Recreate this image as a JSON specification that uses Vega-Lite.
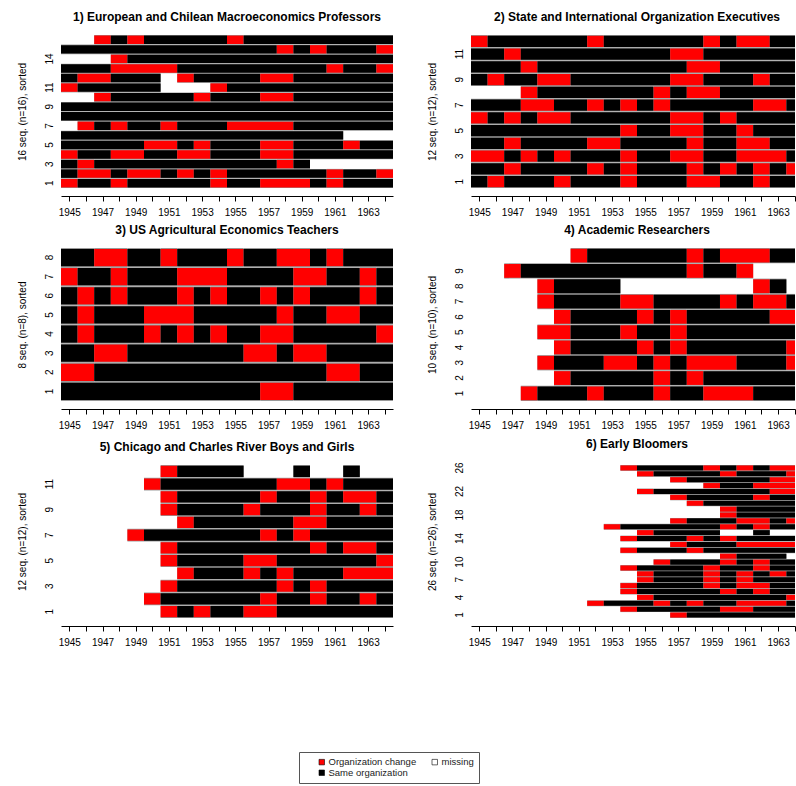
{
"$schema":"https://vega.github.io/schema/vega-lite/v6.json",
"padding":{"left":17,"top":11,"right":0,"bottom":0},
"background":"white",
"config":{
 "font":"Liberation Sans",
 "view":{"stroke":null},
 "title":{"fontSize":12,"fontWeight":"bold","offset":11,"color":"black","frame":"group"},
 "axisX":{"offset":8,"tickSize":5,"labelFontSize":10,"labelPadding":6,"domainColor":"black","tickColor":"black","labelColor":"black","grid":false,"title":null,"labelOverlap":false,"labelFlush":false},
 "axisY":{"domain":false,"ticks":false,"labelAngle":270,"labelAlign":"center","labelBaseline":"bottom","labelPadding":7,"labelFontSize":10,"labelColor":"black","titleFontSize":10,"titleFontWeight":"normal","titleColor":"black","titlePadding":17,"grid":false,"labelOverlap":false},
 "legend":{"orient":"none","legendX":238,"legendY":717,"columns":2,"direction":"horizontal","gridAlign":"all","symbolType":"square","symbolSize":30,"symbolStrokeColor":"black","symbolStrokeWidth":0.6,"symbolOffset":13,"labelFontSize":9.5,"labelColor":"#222","strokeColor":"#555","padding":5,"columnPadding":0,"rowPadding":0,"labelOffset":2}
},
"datasets":{"seq":[
{"p":1,"r":16,"s":1947,"e":1947,"c":"C"},{"p":1,"r":16,"s":1948,"e":1948,"c":"S"},{"p":1,"r":16,"s":1949,"e":1949,"c":"C"},{"p":1,"r":16,"s":1950,"e":1954,"c":"S"},{"p":1,"r":16,"s":1955,"e":1955,"c":"C"},{"p":1,"r":16,"s":1956,"e":1964,"c":"S"},
{"p":1,"r":15,"s":1945,"e":1957,"c":"S"},{"p":1,"r":15,"s":1958,"e":1958,"c":"C"},{"p":1,"r":15,"s":1959,"e":1959,"c":"S"},{"p":1,"r":15,"s":1960,"e":1960,"c":"C"},{"p":1,"r":15,"s":1961,"e":1963,"c":"S"},{"p":1,"r":15,"s":1964,"e":1964,"c":"C"},
{"p":1,"r":14,"s":1948,"e":1948,"c":"C"},{"p":1,"r":14,"s":1949,"e":1964,"c":"S"},
{"p":1,"r":13,"s":1945,"e":1947,"c":"S"},{"p":1,"r":13,"s":1948,"e":1951,"c":"C"},{"p":1,"r":13,"s":1952,"e":1960,"c":"S"},{"p":1,"r":13,"s":1961,"e":1961,"c":"C"},{"p":1,"r":13,"s":1962,"e":1963,"c":"S"},{"p":1,"r":13,"s":1964,"e":1964,"c":"C"},
{"p":1,"r":12,"s":1945,"e":1945,"c":"S"},{"p":1,"r":12,"s":1946,"e":1947,"c":"C"},{"p":1,"r":12,"s":1948,"e":1950,"c":"S"},{"p":1,"r":12,"s":1952,"e":1952,"c":"C"},{"p":1,"r":12,"s":1953,"e":1956,"c":"S"},{"p":1,"r":12,"s":1957,"e":1958,"c":"C"},{"p":1,"r":12,"s":1959,"e":1964,"c":"S"},
{"p":1,"r":11,"s":1945,"e":1945,"c":"C"},{"p":1,"r":11,"s":1946,"e":1950,"c":"S"},{"p":1,"r":11,"s":1954,"e":1954,"c":"C"},{"p":1,"r":11,"s":1955,"e":1964,"c":"S"},
{"p":1,"r":10,"s":1947,"e":1947,"c":"C"},{"p":1,"r":10,"s":1948,"e":1952,"c":"S"},{"p":1,"r":10,"s":1953,"e":1953,"c":"C"},{"p":1,"r":10,"s":1954,"e":1956,"c":"S"},{"p":1,"r":10,"s":1957,"e":1958,"c":"C"},{"p":1,"r":10,"s":1959,"e":1964,"c":"S"},
{"p":1,"r":9,"s":1945,"e":1964,"c":"S"},
{"p":1,"r":8,"s":1945,"e":1964,"c":"S"},
{"p":1,"r":7,"s":1946,"e":1946,"c":"C"},{"p":1,"r":7,"s":1947,"e":1947,"c":"S"},{"p":1,"r":7,"s":1948,"e":1948,"c":"C"},{"p":1,"r":7,"s":1949,"e":1950,"c":"S"},{"p":1,"r":7,"s":1951,"e":1951,"c":"C"},{"p":1,"r":7,"s":1952,"e":1954,"c":"S"},{"p":1,"r":7,"s":1955,"e":1958,"c":"C"},{"p":1,"r":7,"s":1959,"e":1964,"c":"S"},
{"p":1,"r":6,"s":1945,"e":1961,"c":"S"},
{"p":1,"r":5,"s":1945,"e":1949,"c":"S"},{"p":1,"r":5,"s":1950,"e":1951,"c":"C"},{"p":1,"r":5,"s":1952,"e":1952,"c":"S"},{"p":1,"r":5,"s":1953,"e":1953,"c":"C"},{"p":1,"r":5,"s":1954,"e":1956,"c":"S"},{"p":1,"r":5,"s":1957,"e":1958,"c":"C"},{"p":1,"r":5,"s":1959,"e":1961,"c":"S"},{"p":1,"r":5,"s":1962,"e":1962,"c":"C"},{"p":1,"r":5,"s":1963,"e":1964,"c":"S"},
{"p":1,"r":4,"s":1945,"e":1945,"c":"C"},{"p":1,"r":4,"s":1946,"e":1947,"c":"S"},{"p":1,"r":4,"s":1948,"e":1949,"c":"C"},{"p":1,"r":4,"s":1950,"e":1951,"c":"S"},{"p":1,"r":4,"s":1952,"e":1953,"c":"C"},{"p":1,"r":4,"s":1954,"e":1956,"c":"S"},{"p":1,"r":4,"s":1957,"e":1958,"c":"C"},{"p":1,"r":4,"s":1959,"e":1964,"c":"S"},
{"p":1,"r":3,"s":1945,"e":1945,"c":"S"},{"p":1,"r":3,"s":1946,"e":1946,"c":"C"},{"p":1,"r":3,"s":1947,"e":1957,"c":"S"},{"p":1,"r":3,"s":1958,"e":1958,"c":"C"},{"p":1,"r":3,"s":1959,"e":1959,"c":"S"},
{"p":1,"r":2,"s":1945,"e":1945,"c":"S"},{"p":1,"r":2,"s":1946,"e":1947,"c":"C"},{"p":1,"r":2,"s":1948,"e":1948,"c":"S"},{"p":1,"r":2,"s":1949,"e":1950,"c":"C"},{"p":1,"r":2,"s":1951,"e":1951,"c":"S"},{"p":1,"r":2,"s":1952,"e":1952,"c":"C"},{"p":1,"r":2,"s":1953,"e":1953,"c":"S"},{"p":1,"r":2,"s":1954,"e":1954,"c":"C"},{"p":1,"r":2,"s":1955,"e":1960,"c":"S"},{"p":1,"r":2,"s":1961,"e":1961,"c":"C"},{"p":1,"r":2,"s":1962,"e":1963,"c":"S"},{"p":1,"r":2,"s":1964,"e":1964,"c":"C"},
{"p":1,"r":1,"s":1945,"e":1945,"c":"C"},{"p":1,"r":1,"s":1946,"e":1947,"c":"S"},{"p":1,"r":1,"s":1948,"e":1948,"c":"C"},{"p":1,"r":1,"s":1949,"e":1953,"c":"S"},{"p":1,"r":1,"s":1954,"e":1954,"c":"C"},{"p":1,"r":1,"s":1955,"e":1956,"c":"S"},{"p":1,"r":1,"s":1957,"e":1959,"c":"C"},{"p":1,"r":1,"s":1960,"e":1960,"c":"S"},{"p":1,"r":1,"s":1961,"e":1961,"c":"C"},{"p":1,"r":1,"s":1962,"e":1964,"c":"S"},

{"p":2,"r":12,"s":1945,"e":1945,"c":"C"},{"p":2,"r":12,"s":1946,"e":1951,"c":"S"},{"p":2,"r":12,"s":1952,"e":1952,"c":"C"},{"p":2,"r":12,"s":1953,"e":1958,"c":"S"},{"p":2,"r":12,"s":1959,"e":1959,"c":"C"},{"p":2,"r":12,"s":1960,"e":1960,"c":"S"},{"p":2,"r":12,"s":1961,"e":1962,"c":"C"},{"p":2,"r":12,"s":1963,"e":1964,"c":"S"},
{"p":2,"r":11,"s":1945,"e":1946,"c":"S"},{"p":2,"r":11,"s":1947,"e":1947,"c":"C"},{"p":2,"r":11,"s":1948,"e":1956,"c":"S"},{"p":2,"r":11,"s":1957,"e":1958,"c":"C"},{"p":2,"r":11,"s":1959,"e":1964,"c":"S"},
{"p":2,"r":10,"s":1945,"e":1947,"c":"S"},{"p":2,"r":10,"s":1948,"e":1948,"c":"C"},{"p":2,"r":10,"s":1949,"e":1957,"c":"S"},{"p":2,"r":10,"s":1958,"e":1959,"c":"C"},{"p":2,"r":10,"s":1960,"e":1964,"c":"S"},
{"p":2,"r":9,"s":1945,"e":1945,"c":"S"},{"p":2,"r":9,"s":1946,"e":1946,"c":"C"},{"p":2,"r":9,"s":1947,"e":1948,"c":"S"},{"p":2,"r":9,"s":1949,"e":1950,"c":"C"},{"p":2,"r":9,"s":1951,"e":1956,"c":"S"},{"p":2,"r":9,"s":1957,"e":1958,"c":"C"},{"p":2,"r":9,"s":1959,"e":1961,"c":"S"},{"p":2,"r":9,"s":1962,"e":1962,"c":"C"},{"p":2,"r":9,"s":1963,"e":1964,"c":"S"},
{"p":2,"r":8,"s":1948,"e":1948,"c":"C"},{"p":2,"r":8,"s":1949,"e":1955,"c":"S"},{"p":2,"r":8,"s":1956,"e":1956,"c":"C"},{"p":2,"r":8,"s":1957,"e":1957,"c":"S"},{"p":2,"r":8,"s":1958,"e":1959,"c":"C"},{"p":2,"r":8,"s":1960,"e":1964,"c":"S"},
{"p":2,"r":7,"s":1945,"e":1947,"c":"S"},{"p":2,"r":7,"s":1948,"e":1949,"c":"C"},{"p":2,"r":7,"s":1950,"e":1951,"c":"S"},{"p":2,"r":7,"s":1952,"e":1952,"c":"C"},{"p":2,"r":7,"s":1953,"e":1953,"c":"S"},{"p":2,"r":7,"s":1954,"e":1954,"c":"C"},{"p":2,"r":7,"s":1955,"e":1955,"c":"S"},{"p":2,"r":7,"s":1956,"e":1956,"c":"C"},{"p":2,"r":7,"s":1957,"e":1961,"c":"S"},{"p":2,"r":7,"s":1962,"e":1963,"c":"C"},{"p":2,"r":7,"s":1964,"e":1964,"c":"S"},
{"p":2,"r":6,"s":1945,"e":1945,"c":"C"},{"p":2,"r":6,"s":1946,"e":1946,"c":"S"},{"p":2,"r":6,"s":1947,"e":1947,"c":"C"},{"p":2,"r":6,"s":1948,"e":1948,"c":"S"},{"p":2,"r":6,"s":1949,"e":1950,"c":"C"},{"p":2,"r":6,"s":1951,"e":1956,"c":"S"},{"p":2,"r":6,"s":1957,"e":1958,"c":"C"},{"p":2,"r":6,"s":1959,"e":1959,"c":"S"},{"p":2,"r":6,"s":1960,"e":1960,"c":"C"},{"p":2,"r":6,"s":1961,"e":1964,"c":"S"},
{"p":2,"r":5,"s":1945,"e":1953,"c":"S"},{"p":2,"r":5,"s":1954,"e":1954,"c":"C"},{"p":2,"r":5,"s":1955,"e":1956,"c":"S"},{"p":2,"r":5,"s":1957,"e":1958,"c":"C"},{"p":2,"r":5,"s":1959,"e":1960,"c":"S"},{"p":2,"r":5,"s":1961,"e":1961,"c":"C"},{"p":2,"r":5,"s":1962,"e":1964,"c":"S"},
{"p":2,"r":4,"s":1945,"e":1946,"c":"S"},{"p":2,"r":4,"s":1947,"e":1947,"c":"C"},{"p":2,"r":4,"s":1948,"e":1951,"c":"S"},{"p":2,"r":4,"s":1952,"e":1953,"c":"C"},{"p":2,"r":4,"s":1954,"e":1957,"c":"S"},{"p":2,"r":4,"s":1958,"e":1958,"c":"C"},{"p":2,"r":4,"s":1959,"e":1960,"c":"S"},{"p":2,"r":4,"s":1961,"e":1962,"c":"C"},{"p":2,"r":4,"s":1963,"e":1964,"c":"S"},
{"p":2,"r":3,"s":1945,"e":1946,"c":"C"},{"p":2,"r":3,"s":1947,"e":1947,"c":"S"},{"p":2,"r":3,"s":1948,"e":1948,"c":"C"},{"p":2,"r":3,"s":1949,"e":1949,"c":"S"},{"p":2,"r":3,"s":1950,"e":1950,"c":"C"},{"p":2,"r":3,"s":1951,"e":1953,"c":"S"},{"p":2,"r":3,"s":1954,"e":1954,"c":"C"},{"p":2,"r":3,"s":1955,"e":1956,"c":"S"},{"p":2,"r":3,"s":1957,"e":1958,"c":"C"},{"p":2,"r":3,"s":1959,"e":1960,"c":"S"},{"p":2,"r":3,"s":1961,"e":1963,"c":"C"},{"p":2,"r":3,"s":1964,"e":1964,"c":"S"},
{"p":2,"r":2,"s":1945,"e":1946,"c":"S"},{"p":2,"r":2,"s":1947,"e":1947,"c":"C"},{"p":2,"r":2,"s":1948,"e":1951,"c":"S"},{"p":2,"r":2,"s":1952,"e":1952,"c":"C"},{"p":2,"r":2,"s":1953,"e":1953,"c":"S"},{"p":2,"r":2,"s":1954,"e":1954,"c":"C"},{"p":2,"r":2,"s":1955,"e":1957,"c":"S"},{"p":2,"r":2,"s":1958,"e":1958,"c":"C"},{"p":2,"r":2,"s":1959,"e":1959,"c":"S"},{"p":2,"r":2,"s":1960,"e":1960,"c":"C"},{"p":2,"r":2,"s":1961,"e":1961,"c":"S"},{"p":2,"r":2,"s":1962,"e":1962,"c":"C"},{"p":2,"r":2,"s":1963,"e":1963,"c":"S"},{"p":2,"r":2,"s":1964,"e":1964,"c":"C"},
{"p":2,"r":1,"s":1945,"e":1945,"c":"S"},{"p":2,"r":1,"s":1946,"e":1946,"c":"C"},{"p":2,"r":1,"s":1947,"e":1949,"c":"S"},{"p":2,"r":1,"s":1950,"e":1950,"c":"C"},{"p":2,"r":1,"s":1951,"e":1953,"c":"S"},{"p":2,"r":1,"s":1954,"e":1954,"c":"C"},{"p":2,"r":1,"s":1955,"e":1957,"c":"S"},{"p":2,"r":1,"s":1958,"e":1959,"c":"C"},{"p":2,"r":1,"s":1960,"e":1961,"c":"S"},{"p":2,"r":1,"s":1962,"e":1962,"c":"C"},{"p":2,"r":1,"s":1963,"e":1964,"c":"S"},

{"p":3,"r":8,"s":1945,"e":1946,"c":"S"},{"p":3,"r":8,"s":1947,"e":1948,"c":"C"},{"p":3,"r":8,"s":1949,"e":1950,"c":"S"},{"p":3,"r":8,"s":1951,"e":1951,"c":"C"},{"p":3,"r":8,"s":1952,"e":1954,"c":"S"},{"p":3,"r":8,"s":1955,"e":1955,"c":"C"},{"p":3,"r":8,"s":1956,"e":1957,"c":"S"},{"p":3,"r":8,"s":1958,"e":1959,"c":"C"},{"p":3,"r":8,"s":1960,"e":1960,"c":"S"},{"p":3,"r":8,"s":1961,"e":1961,"c":"C"},{"p":3,"r":8,"s":1962,"e":1964,"c":"S"},
{"p":3,"r":7,"s":1945,"e":1945,"c":"C"},{"p":3,"r":7,"s":1946,"e":1947,"c":"S"},{"p":3,"r":7,"s":1948,"e":1948,"c":"C"},{"p":3,"r":7,"s":1949,"e":1951,"c":"S"},{"p":3,"r":7,"s":1952,"e":1954,"c":"C"},{"p":3,"r":7,"s":1955,"e":1958,"c":"S"},{"p":3,"r":7,"s":1959,"e":1960,"c":"C"},{"p":3,"r":7,"s":1961,"e":1962,"c":"S"},{"p":3,"r":7,"s":1963,"e":1963,"c":"C"},{"p":3,"r":7,"s":1964,"e":1964,"c":"S"},
{"p":3,"r":6,"s":1945,"e":1945,"c":"S"},{"p":3,"r":6,"s":1946,"e":1946,"c":"C"},{"p":3,"r":6,"s":1947,"e":1947,"c":"S"},{"p":3,"r":6,"s":1948,"e":1948,"c":"C"},{"p":3,"r":6,"s":1949,"e":1951,"c":"S"},{"p":3,"r":6,"s":1952,"e":1952,"c":"C"},{"p":3,"r":6,"s":1953,"e":1953,"c":"S"},{"p":3,"r":6,"s":1954,"e":1954,"c":"C"},{"p":3,"r":6,"s":1955,"e":1956,"c":"S"},{"p":3,"r":6,"s":1957,"e":1957,"c":"C"},{"p":3,"r":6,"s":1958,"e":1958,"c":"S"},{"p":3,"r":6,"s":1959,"e":1959,"c":"C"},{"p":3,"r":6,"s":1960,"e":1962,"c":"S"},{"p":3,"r":6,"s":1963,"e":1963,"c":"C"},{"p":3,"r":6,"s":1964,"e":1964,"c":"S"},
{"p":3,"r":5,"s":1945,"e":1945,"c":"S"},{"p":3,"r":5,"s":1946,"e":1946,"c":"C"},{"p":3,"r":5,"s":1947,"e":1949,"c":"S"},{"p":3,"r":5,"s":1950,"e":1952,"c":"C"},{"p":3,"r":5,"s":1953,"e":1957,"c":"S"},{"p":3,"r":5,"s":1958,"e":1958,"c":"C"},{"p":3,"r":5,"s":1959,"e":1960,"c":"S"},{"p":3,"r":5,"s":1961,"e":1962,"c":"C"},{"p":3,"r":5,"s":1963,"e":1964,"c":"S"},
{"p":3,"r":4,"s":1945,"e":1945,"c":"S"},{"p":3,"r":4,"s":1946,"e":1946,"c":"C"},{"p":3,"r":4,"s":1947,"e":1949,"c":"S"},{"p":3,"r":4,"s":1950,"e":1950,"c":"C"},{"p":3,"r":4,"s":1951,"e":1951,"c":"S"},{"p":3,"r":4,"s":1952,"e":1952,"c":"C"},{"p":3,"r":4,"s":1953,"e":1953,"c":"S"},{"p":3,"r":4,"s":1954,"e":1954,"c":"C"},{"p":3,"r":4,"s":1955,"e":1956,"c":"S"},{"p":3,"r":4,"s":1957,"e":1958,"c":"C"},{"p":3,"r":4,"s":1959,"e":1963,"c":"S"},{"p":3,"r":4,"s":1964,"e":1964,"c":"C"},
{"p":3,"r":3,"s":1945,"e":1946,"c":"S"},{"p":3,"r":3,"s":1947,"e":1948,"c":"C"},{"p":3,"r":3,"s":1949,"e":1955,"c":"S"},{"p":3,"r":3,"s":1956,"e":1957,"c":"C"},{"p":3,"r":3,"s":1958,"e":1958,"c":"S"},{"p":3,"r":3,"s":1959,"e":1960,"c":"C"},{"p":3,"r":3,"s":1961,"e":1964,"c":"S"},
{"p":3,"r":2,"s":1945,"e":1946,"c":"C"},{"p":3,"r":2,"s":1947,"e":1960,"c":"S"},{"p":3,"r":2,"s":1961,"e":1962,"c":"C"},{"p":3,"r":2,"s":1963,"e":1964,"c":"S"},
{"p":3,"r":1,"s":1945,"e":1956,"c":"S"},{"p":3,"r":1,"s":1957,"e":1958,"c":"C"},{"p":3,"r":1,"s":1959,"e":1964,"c":"S"},

{"p":4,"r":10,"s":1951,"e":1951,"c":"C"},{"p":4,"r":10,"s":1952,"e":1957,"c":"S"},{"p":4,"r":10,"s":1958,"e":1958,"c":"C"},{"p":4,"r":10,"s":1959,"e":1959,"c":"S"},{"p":4,"r":10,"s":1960,"e":1962,"c":"C"},{"p":4,"r":10,"s":1963,"e":1964,"c":"S"},
{"p":4,"r":9,"s":1947,"e":1947,"c":"C"},{"p":4,"r":9,"s":1948,"e":1957,"c":"S"},{"p":4,"r":9,"s":1958,"e":1958,"c":"C"},{"p":4,"r":9,"s":1959,"e":1960,"c":"S"},{"p":4,"r":9,"s":1961,"e":1961,"c":"C"},
{"p":4,"r":8,"s":1949,"e":1949,"c":"C"},{"p":4,"r":8,"s":1950,"e":1953,"c":"S"},{"p":4,"r":8,"s":1962,"e":1962,"c":"C"},{"p":4,"r":8,"s":1963,"e":1963,"c":"S"},
{"p":4,"r":7,"s":1949,"e":1949,"c":"C"},{"p":4,"r":7,"s":1950,"e":1953,"c":"S"},{"p":4,"r":7,"s":1954,"e":1955,"c":"C"},{"p":4,"r":7,"s":1956,"e":1959,"c":"S"},{"p":4,"r":7,"s":1960,"e":1960,"c":"C"},{"p":4,"r":7,"s":1961,"e":1961,"c":"S"},{"p":4,"r":7,"s":1962,"e":1963,"c":"C"},{"p":4,"r":7,"s":1964,"e":1964,"c":"S"},
{"p":4,"r":6,"s":1950,"e":1950,"c":"C"},{"p":4,"r":6,"s":1951,"e":1954,"c":"S"},{"p":4,"r":6,"s":1955,"e":1955,"c":"C"},{"p":4,"r":6,"s":1956,"e":1956,"c":"S"},{"p":4,"r":6,"s":1957,"e":1957,"c":"C"},{"p":4,"r":6,"s":1958,"e":1962,"c":"S"},{"p":4,"r":6,"s":1963,"e":1964,"c":"C"},
{"p":4,"r":5,"s":1949,"e":1950,"c":"C"},{"p":4,"r":5,"s":1951,"e":1953,"c":"S"},{"p":4,"r":5,"s":1954,"e":1954,"c":"C"},{"p":4,"r":5,"s":1955,"e":1956,"c":"S"},{"p":4,"r":5,"s":1957,"e":1957,"c":"C"},{"p":4,"r":5,"s":1958,"e":1964,"c":"S"},
{"p":4,"r":4,"s":1950,"e":1950,"c":"C"},{"p":4,"r":4,"s":1951,"e":1954,"c":"S"},{"p":4,"r":4,"s":1955,"e":1955,"c":"C"},{"p":4,"r":4,"s":1956,"e":1956,"c":"S"},{"p":4,"r":4,"s":1957,"e":1957,"c":"C"},{"p":4,"r":4,"s":1958,"e":1963,"c":"S"},{"p":4,"r":4,"s":1964,"e":1964,"c":"C"},
{"p":4,"r":3,"s":1949,"e":1949,"c":"C"},{"p":4,"r":3,"s":1950,"e":1952,"c":"S"},{"p":4,"r":3,"s":1953,"e":1954,"c":"C"},{"p":4,"r":3,"s":1955,"e":1955,"c":"S"},{"p":4,"r":3,"s":1956,"e":1956,"c":"C"},{"p":4,"r":3,"s":1957,"e":1957,"c":"S"},{"p":4,"r":3,"s":1958,"e":1960,"c":"C"},{"p":4,"r":3,"s":1961,"e":1963,"c":"S"},{"p":4,"r":3,"s":1964,"e":1964,"c":"C"},
{"p":4,"r":2,"s":1950,"e":1950,"c":"C"},{"p":4,"r":2,"s":1951,"e":1955,"c":"S"},{"p":4,"r":2,"s":1956,"e":1956,"c":"C"},{"p":4,"r":2,"s":1957,"e":1957,"c":"S"},{"p":4,"r":2,"s":1958,"e":1958,"c":"C"},{"p":4,"r":2,"s":1959,"e":1964,"c":"S"},
{"p":4,"r":1,"s":1948,"e":1948,"c":"C"},{"p":4,"r":1,"s":1949,"e":1951,"c":"S"},{"p":4,"r":1,"s":1952,"e":1952,"c":"C"},{"p":4,"r":1,"s":1953,"e":1955,"c":"S"},{"p":4,"r":1,"s":1956,"e":1956,"c":"C"},{"p":4,"r":1,"s":1957,"e":1958,"c":"S"},{"p":4,"r":1,"s":1959,"e":1961,"c":"C"},{"p":4,"r":1,"s":1962,"e":1964,"c":"S"},

{"p":5,"r":12,"s":1951,"e":1951,"c":"C"},{"p":5,"r":12,"s":1952,"e":1955,"c":"S"},{"p":5,"r":12,"s":1959,"e":1959,"c":"S"},{"p":5,"r":12,"s":1962,"e":1962,"c":"S"},
{"p":5,"r":11,"s":1950,"e":1950,"c":"C"},{"p":5,"r":11,"s":1951,"e":1957,"c":"S"},{"p":5,"r":11,"s":1958,"e":1959,"c":"C"},{"p":5,"r":11,"s":1960,"e":1960,"c":"S"},{"p":5,"r":11,"s":1961,"e":1961,"c":"C"},{"p":5,"r":11,"s":1962,"e":1964,"c":"S"},
{"p":5,"r":10,"s":1951,"e":1951,"c":"C"},{"p":5,"r":10,"s":1952,"e":1956,"c":"S"},{"p":5,"r":10,"s":1957,"e":1957,"c":"C"},{"p":5,"r":10,"s":1958,"e":1959,"c":"S"},{"p":5,"r":10,"s":1960,"e":1960,"c":"C"},{"p":5,"r":10,"s":1961,"e":1961,"c":"S"},{"p":5,"r":10,"s":1962,"e":1963,"c":"C"},{"p":5,"r":10,"s":1964,"e":1964,"c":"S"},
{"p":5,"r":9,"s":1951,"e":1951,"c":"C"},{"p":5,"r":9,"s":1952,"e":1955,"c":"S"},{"p":5,"r":9,"s":1956,"e":1956,"c":"C"},{"p":5,"r":9,"s":1957,"e":1959,"c":"S"},{"p":5,"r":9,"s":1960,"e":1960,"c":"C"},{"p":5,"r":9,"s":1961,"e":1962,"c":"S"},{"p":5,"r":9,"s":1963,"e":1963,"c":"C"},{"p":5,"r":9,"s":1964,"e":1964,"c":"S"},
{"p":5,"r":8,"s":1952,"e":1952,"c":"C"},{"p":5,"r":8,"s":1953,"e":1958,"c":"S"},{"p":5,"r":8,"s":1959,"e":1960,"c":"C"},{"p":5,"r":8,"s":1961,"e":1964,"c":"S"},
{"p":5,"r":7,"s":1949,"e":1949,"c":"C"},{"p":5,"r":7,"s":1950,"e":1956,"c":"S"},{"p":5,"r":7,"s":1957,"e":1957,"c":"C"},{"p":5,"r":7,"s":1958,"e":1958,"c":"S"},{"p":5,"r":7,"s":1959,"e":1959,"c":"C"},{"p":5,"r":7,"s":1960,"e":1964,"c":"S"},
{"p":5,"r":6,"s":1951,"e":1951,"c":"C"},{"p":5,"r":6,"s":1952,"e":1959,"c":"S"},{"p":5,"r":6,"s":1960,"e":1960,"c":"C"},{"p":5,"r":6,"s":1961,"e":1961,"c":"S"},{"p":5,"r":6,"s":1962,"e":1963,"c":"C"},{"p":5,"r":6,"s":1964,"e":1964,"c":"S"},
{"p":5,"r":5,"s":1951,"e":1951,"c":"C"},{"p":5,"r":5,"s":1952,"e":1955,"c":"S"},{"p":5,"r":5,"s":1956,"e":1957,"c":"C"},{"p":5,"r":5,"s":1958,"e":1963,"c":"S"},{"p":5,"r":5,"s":1964,"e":1964,"c":"C"},
{"p":5,"r":4,"s":1952,"e":1952,"c":"C"},{"p":5,"r":4,"s":1953,"e":1955,"c":"S"},{"p":5,"r":4,"s":1956,"e":1956,"c":"C"},{"p":5,"r":4,"s":1957,"e":1957,"c":"S"},{"p":5,"r":4,"s":1958,"e":1958,"c":"C"},{"p":5,"r":4,"s":1959,"e":1961,"c":"S"},{"p":5,"r":4,"s":1962,"e":1964,"c":"C"},
{"p":5,"r":3,"s":1951,"e":1951,"c":"C"},{"p":5,"r":3,"s":1952,"e":1957,"c":"S"},{"p":5,"r":3,"s":1958,"e":1958,"c":"C"},{"p":5,"r":3,"s":1959,"e":1959,"c":"S"},{"p":5,"r":3,"s":1960,"e":1960,"c":"C"},{"p":5,"r":3,"s":1961,"e":1964,"c":"S"},
{"p":5,"r":2,"s":1950,"e":1950,"c":"C"},{"p":5,"r":2,"s":1951,"e":1956,"c":"S"},{"p":5,"r":2,"s":1957,"e":1957,"c":"C"},{"p":5,"r":2,"s":1958,"e":1959,"c":"S"},{"p":5,"r":2,"s":1960,"e":1960,"c":"C"},{"p":5,"r":2,"s":1961,"e":1962,"c":"S"},{"p":5,"r":2,"s":1963,"e":1963,"c":"C"},{"p":5,"r":2,"s":1964,"e":1964,"c":"S"},
{"p":5,"r":1,"s":1951,"e":1951,"c":"C"},{"p":5,"r":1,"s":1952,"e":1952,"c":"S"},{"p":5,"r":1,"s":1953,"e":1953,"c":"C"},{"p":5,"r":1,"s":1954,"e":1955,"c":"S"},{"p":5,"r":1,"s":1956,"e":1957,"c":"C"},{"p":5,"r":1,"s":1958,"e":1964,"c":"S"},

{"p":6,"r":26,"s":1954,"e":1954,"c":"C"},{"p":6,"r":26,"s":1955,"e":1958,"c":"S"},{"p":6,"r":26,"s":1959,"e":1959,"c":"C"},{"p":6,"r":26,"s":1960,"e":1960,"c":"S"},{"p":6,"r":26,"s":1961,"e":1961,"c":"C"},{"p":6,"r":26,"s":1962,"e":1962,"c":"S"},{"p":6,"r":26,"s":1963,"e":1964,"c":"C"},
{"p":6,"r":25,"s":1955,"e":1955,"c":"C"},{"p":6,"r":25,"s":1956,"e":1959,"c":"S"},{"p":6,"r":25,"s":1960,"e":1960,"c":"C"},{"p":6,"r":25,"s":1961,"e":1963,"c":"S"},{"p":6,"r":25,"s":1964,"e":1964,"c":"C"},
{"p":6,"r":24,"s":1957,"e":1957,"c":"C"},{"p":6,"r":24,"s":1958,"e":1962,"c":"S"},{"p":6,"r":24,"s":1963,"e":1964,"c":"C"},
{"p":6,"r":23,"s":1959,"e":1959,"c":"C"},{"p":6,"r":23,"s":1960,"e":1961,"c":"S"},{"p":6,"r":23,"s":1962,"e":1964,"c":"C"},
{"p":6,"r":22,"s":1955,"e":1955,"c":"C"},{"p":6,"r":22,"s":1956,"e":1962,"c":"S"},{"p":6,"r":22,"s":1963,"e":1964,"c":"C"},
{"p":6,"r":21,"s":1957,"e":1957,"c":"C"},{"p":6,"r":21,"s":1958,"e":1961,"c":"S"},{"p":6,"r":21,"s":1962,"e":1962,"c":"C"},{"p":6,"r":21,"s":1963,"e":1964,"c":"S"},
{"p":6,"r":20,"s":1958,"e":1958,"c":"C"},{"p":6,"r":20,"s":1959,"e":1964,"c":"S"},
{"p":6,"r":19,"s":1960,"e":1960,"c":"C"},{"p":6,"r":19,"s":1961,"e":1964,"c":"S"},
{"p":6,"r":18,"s":1960,"e":1960,"c":"C"},{"p":6,"r":18,"s":1961,"e":1964,"c":"S"},
{"p":6,"r":17,"s":1957,"e":1957,"c":"C"},{"p":6,"r":17,"s":1958,"e":1960,"c":"S"},{"p":6,"r":17,"s":1961,"e":1962,"c":"C"},{"p":6,"r":17,"s":1963,"e":1963,"c":"S"},{"p":6,"r":17,"s":1964,"e":1964,"c":"C"},
{"p":6,"r":16,"s":1953,"e":1953,"c":"C"},{"p":6,"r":16,"s":1954,"e":1959,"c":"S"},{"p":6,"r":16,"s":1960,"e":1960,"c":"C"},{"p":6,"r":16,"s":1961,"e":1961,"c":"S"},{"p":6,"r":16,"s":1962,"e":1962,"c":"C"},{"p":6,"r":16,"s":1963,"e":1964,"c":"S"},
{"p":6,"r":15,"s":1955,"e":1955,"c":"C"},{"p":6,"r":15,"s":1956,"e":1959,"c":"S"},{"p":6,"r":15,"s":1962,"e":1962,"c":"S"},
{"p":6,"r":14,"s":1954,"e":1954,"c":"C"},{"p":6,"r":14,"s":1955,"e":1957,"c":"S"},{"p":6,"r":14,"s":1958,"e":1958,"c":"C"},{"p":6,"r":14,"s":1959,"e":1959,"c":"S"},{"p":6,"r":14,"s":1960,"e":1960,"c":"C"},{"p":6,"r":14,"s":1961,"e":1964,"c":"S"},
{"p":6,"r":13,"s":1957,"e":1957,"c":"C"},{"p":6,"r":13,"s":1958,"e":1960,"c":"S"},{"p":6,"r":13,"s":1961,"e":1964,"c":"C"},
{"p":6,"r":12,"s":1954,"e":1954,"c":"C"},{"p":6,"r":12,"s":1955,"e":1957,"c":"S"},{"p":6,"r":12,"s":1958,"e":1958,"c":"C"},{"p":6,"r":12,"s":1959,"e":1964,"c":"S"},
{"p":6,"r":11,"s":1960,"e":1960,"c":"C"},{"p":6,"r":11,"s":1961,"e":1963,"c":"S"},
{"p":6,"r":10,"s":1956,"e":1956,"c":"C"},{"p":6,"r":10,"s":1957,"e":1959,"c":"S"},{"p":6,"r":10,"s":1960,"e":1960,"c":"C"},{"p":6,"r":10,"s":1961,"e":1961,"c":"S"},{"p":6,"r":10,"s":1962,"e":1962,"c":"C"},{"p":6,"r":10,"s":1963,"e":1964,"c":"S"},
{"p":6,"r":9,"s":1954,"e":1954,"c":"C"},{"p":6,"r":9,"s":1955,"e":1958,"c":"S"},{"p":6,"r":9,"s":1959,"e":1959,"c":"C"},{"p":6,"r":9,"s":1960,"e":1961,"c":"S"},{"p":6,"r":9,"s":1962,"e":1962,"c":"C"},{"p":6,"r":9,"s":1963,"e":1964,"c":"S"},
{"p":6,"r":8,"s":1955,"e":1955,"c":"C"},{"p":6,"r":8,"s":1956,"e":1958,"c":"S"},{"p":6,"r":8,"s":1959,"e":1959,"c":"C"},{"p":6,"r":8,"s":1960,"e":1960,"c":"S"},{"p":6,"r":8,"s":1961,"e":1961,"c":"C"},{"p":6,"r":8,"s":1962,"e":1962,"c":"S"},{"p":6,"r":8,"s":1963,"e":1963,"c":"C"},{"p":6,"r":8,"s":1964,"e":1964,"c":"S"},
{"p":6,"r":7,"s":1955,"e":1955,"c":"C"},{"p":6,"r":7,"s":1956,"e":1958,"c":"S"},{"p":6,"r":7,"s":1959,"e":1959,"c":"C"},{"p":6,"r":7,"s":1960,"e":1960,"c":"S"},{"p":6,"r":7,"s":1961,"e":1961,"c":"C"},{"p":6,"r":7,"s":1962,"e":1964,"c":"S"},
{"p":6,"r":6,"s":1954,"e":1954,"c":"C"},{"p":6,"r":6,"s":1955,"e":1958,"c":"S"},{"p":6,"r":6,"s":1959,"e":1959,"c":"C"},{"p":6,"r":6,"s":1960,"e":1960,"c":"S"},{"p":6,"r":6,"s":1961,"e":1962,"c":"C"},{"p":6,"r":6,"s":1963,"e":1964,"c":"S"},
{"p":6,"r":5,"s":1954,"e":1954,"c":"C"},{"p":6,"r":5,"s":1955,"e":1959,"c":"S"},{"p":6,"r":5,"s":1960,"e":1960,"c":"C"},{"p":6,"r":5,"s":1961,"e":1961,"c":"S"},{"p":6,"r":5,"s":1962,"e":1962,"c":"C"},{"p":6,"r":5,"s":1963,"e":1964,"c":"S"},
{"p":6,"r":4,"s":1955,"e":1955,"c":"C"},{"p":6,"r":4,"s":1956,"e":1963,"c":"S"},{"p":6,"r":4,"s":1964,"e":1964,"c":"C"},
{"p":6,"r":3,"s":1952,"e":1952,"c":"C"},{"p":6,"r":3,"s":1953,"e":1955,"c":"S"},{"p":6,"r":3,"s":1956,"e":1956,"c":"C"},{"p":6,"r":3,"s":1957,"e":1957,"c":"S"},{"p":6,"r":3,"s":1958,"e":1958,"c":"C"},{"p":6,"r":3,"s":1959,"e":1960,"c":"S"},{"p":6,"r":3,"s":1961,"e":1963,"c":"C"},{"p":6,"r":3,"s":1964,"e":1964,"c":"S"},
{"p":6,"r":2,"s":1954,"e":1954,"c":"C"},{"p":6,"r":2,"s":1955,"e":1959,"c":"S"},{"p":6,"r":2,"s":1960,"e":1961,"c":"C"},{"p":6,"r":2,"s":1962,"e":1964,"c":"S"},
{"p":6,"r":1,"s":1957,"e":1957,"c":"C"},{"p":6,"r":1,"s":1958,"e":1964,"c":"S"}
]},
"columns":2,
"spacing":{"row":7,"column":34},
"resolve":{"scale":{"x":"independent","y":"independent"}},
"concat":[
 {"title":{"text":"1) European and Chilean Macroeconomics Professors"},"width":332,"height":153,"data":{"name":"seq"},
  "transform":[{"filter":"datum.p == 1"},{"calculate":"datum.s - 0.5","as":"x0"},{"calculate":"datum.e + 0.5","as":"x1"}],
  "encoding":{"x":{"field":"x0","type":"quantitative","scale":{"domain":[1944.5,1964.5],"nice":false,"zero":false},"axis":{"values":[1945,1946,1947,1948,1949,1950,1951,1952,1953,1954,1955,1956,1957,1958,1959,1960,1961,1962,1963,1964],"format":"d","labelExpr":"datum.value % 2 == 1 ? datum.label : ''"}},"x2":{"field":"x1"},
   "y":{"field":"r","type":"ordinal","sort":"descending","scale":{"paddingInner":0,"paddingOuter":0},"axis":{"values":[1,3,5,7,9,11,14],"title":"16 seq. (n=16), sorted"}}},
  "layer":[{"mark":{"type":"bar","color":"#9a9a9a","clip":true}},
   {"mark":{"type":"bar","clip":true,"height":{"band":0.88}},"encoding":{"color":{"field":"c","type":"nominal","scale":{"domain":["C","M","S"],"range":["#ff0000","#ffffff","#000000"]},"legend":{"title":null,"labelExpr":"datum.label == 'C' ? 'Organization change' : datum.label == 'S' ? 'Same organization' : 'missing'"}}}}]},
 {"title":{"text":"2) State and International Organization Executives","dx":4},"width":324,"height":153,"data":{"name":"seq"},
  "transform":[{"filter":"datum.p == 2"},{"calculate":"datum.s - 0.5","as":"x0"},{"calculate":"datum.e + 0.5","as":"x1"}],
  "encoding":{"x":{"field":"x0","type":"quantitative","scale":{"domain":[1944.5,1964.02],"nice":false,"zero":false},"axis":{"values":[1945,1946,1947,1948,1949,1950,1951,1952,1953,1954,1955,1956,1957,1958,1959,1960,1961,1962,1963,1964],"format":"d","labelExpr":"datum.value % 2 == 1 ? datum.label : ''"}},"x2":{"field":"x1"},
   "y":{"field":"r","type":"ordinal","sort":"descending","scale":{"paddingInner":0,"paddingOuter":0},"axis":{"values":[1,3,5,7,9,11],"title":"12 seq. (n=12), sorted"}}},
  "layer":[{"mark":{"type":"bar","color":"#9a9a9a","clip":true}},
   {"mark":{"type":"bar","clip":true,"height":{"band":0.88}},"encoding":{"color":{"field":"c","type":"nominal","scale":{"domain":["C","M","S"],"range":["#ff0000","#ffffff","#000000"]},"legend":{"title":null,"labelExpr":"datum.label == 'C' ? 'Organization change' : datum.label == 'S' ? 'Same organization' : 'missing'"}}}}]},
 {"title":{"text":"3) US Agricultural Economics Teachers"},"width":332,"height":153,"data":{"name":"seq"},
  "transform":[{"filter":"datum.p == 3"},{"calculate":"datum.s - 0.5","as":"x0"},{"calculate":"datum.e + 0.5","as":"x1"}],
  "encoding":{"x":{"field":"x0","type":"quantitative","scale":{"domain":[1944.5,1964.5],"nice":false,"zero":false},"axis":{"values":[1945,1946,1947,1948,1949,1950,1951,1952,1953,1954,1955,1956,1957,1958,1959,1960,1961,1962,1963,1964],"format":"d","labelExpr":"datum.value % 2 == 1 ? datum.label : ''"}},"x2":{"field":"x1"},
   "y":{"field":"r","type":"ordinal","sort":"descending","scale":{"paddingInner":0,"paddingOuter":0},"axis":{"values":[1,2,3,4,5,6,7,8],"title":"8 seq. (n=8), sorted"}}},
  "layer":[{"mark":{"type":"bar","color":"#9a9a9a","clip":true}},
   {"mark":{"type":"bar","clip":true,"height":{"band":0.9}},"encoding":{"color":{"field":"c","type":"nominal","scale":{"domain":["C","M","S"],"range":["#ff0000","#ffffff","#000000"]},"legend":{"title":null,"labelExpr":"datum.label == 'C' ? 'Organization change' : datum.label == 'S' ? 'Same organization' : 'missing'"}}}}]},
 {"title":{"text":"4) Academic Researchers","dx":4},"width":324,"height":153,"data":{"name":"seq"},
  "transform":[{"filter":"datum.p == 4"},{"calculate":"datum.s - 0.5","as":"x0"},{"calculate":"datum.e + 0.5","as":"x1"}],
  "encoding":{"x":{"field":"x0","type":"quantitative","scale":{"domain":[1944.5,1964.02],"nice":false,"zero":false},"axis":{"values":[1945,1946,1947,1948,1949,1950,1951,1952,1953,1954,1955,1956,1957,1958,1959,1960,1961,1962,1963,1964],"format":"d","labelExpr":"datum.value % 2 == 1 ? datum.label : ''"}},"x2":{"field":"x1"},
   "y":{"field":"r","type":"ordinal","sort":"descending","scale":{"paddingInner":0,"paddingOuter":0},"axis":{"values":[1,2,3,4,5,6,7,8,9],"title":"10 seq. (n=10), sorted"}}},
  "layer":[{"mark":{"type":"bar","color":"#9a9a9a","clip":true}},
   {"mark":{"type":"bar","clip":true,"height":{"band":0.9}},"encoding":{"color":{"field":"c","type":"nominal","scale":{"domain":["C","M","S"],"range":["#ff0000","#ffffff","#000000"]},"legend":{"title":null,"labelExpr":"datum.label == 'C' ? 'Organization change' : datum.label == 'S' ? 'Same organization' : 'missing'"}}}}]},
 {"title":{"text":"5) Chicago and Charles River Boys and Girls"},"width":332,"height":153,"data":{"name":"seq"},
  "transform":[{"filter":"datum.p == 5"},{"calculate":"datum.s - 0.5","as":"x0"},{"calculate":"datum.e + 0.5","as":"x1"}],
  "encoding":{"x":{"field":"x0","type":"quantitative","scale":{"domain":[1944.5,1964.5],"nice":false,"zero":false},"axis":{"values":[1945,1946,1947,1948,1949,1950,1951,1952,1953,1954,1955,1956,1957,1958,1959,1960,1961,1962,1963,1964],"format":"d","labelExpr":"datum.value % 2 == 1 ? datum.label : ''"}},"x2":{"field":"x1"},
   "y":{"field":"r","type":"ordinal","sort":"descending","scale":{"paddingInner":0,"paddingOuter":0},"axis":{"values":[1,3,5,7,9,11],"title":"12 seq. (n=12), sorted"}}},
  "layer":[{"mark":{"type":"bar","color":"#9a9a9a","clip":true}},
   {"mark":{"type":"bar","clip":true,"height":{"band":0.88}},"encoding":{"color":{"field":"c","type":"nominal","scale":{"domain":["C","M","S"],"range":["#ff0000","#ffffff","#000000"]},"legend":{"title":null,"labelExpr":"datum.label == 'C' ? 'Organization change' : datum.label == 'S' ? 'Same organization' : 'missing'"}}}}]},
 {"title":{"text":"6) Early Bloomers","dx":4},"width":324,"height":153,"data":{"name":"seq"},
  "transform":[{"filter":"datum.p == 6"},{"calculate":"datum.s - 0.5","as":"x0"},{"calculate":"datum.e + 0.5","as":"x1"}],
  "encoding":{"x":{"field":"x0","type":"quantitative","scale":{"domain":[1944.5,1964.02],"nice":false,"zero":false},"axis":{"values":[1945,1946,1947,1948,1949,1950,1951,1952,1953,1954,1955,1956,1957,1958,1959,1960,1961,1962,1963,1964],"format":"d","labelExpr":"datum.value % 2 == 1 ? datum.label : ''"}},"x2":{"field":"x1"},
   "y":{"field":"r","type":"ordinal","sort":"descending","scale":{"paddingInner":0,"paddingOuter":0},"axis":{"values":[1,4,7,10,14,18,22,26],"title":"26 seq. (n=26), sorted"}}},
  "layer":[{"mark":{"type":"bar","color":"#9a9a9a","clip":true}},
   {"mark":{"type":"bar","clip":true,"height":{"band":0.86}},"encoding":{"color":{"field":"c","type":"nominal","scale":{"domain":["C","M","S"],"range":["#ff0000","#ffffff","#000000"]},"legend":{"title":null,"labelExpr":"datum.label == 'C' ? 'Organization change' : datum.label == 'S' ? 'Same organization' : 'missing'"}}}}]}
]
}
